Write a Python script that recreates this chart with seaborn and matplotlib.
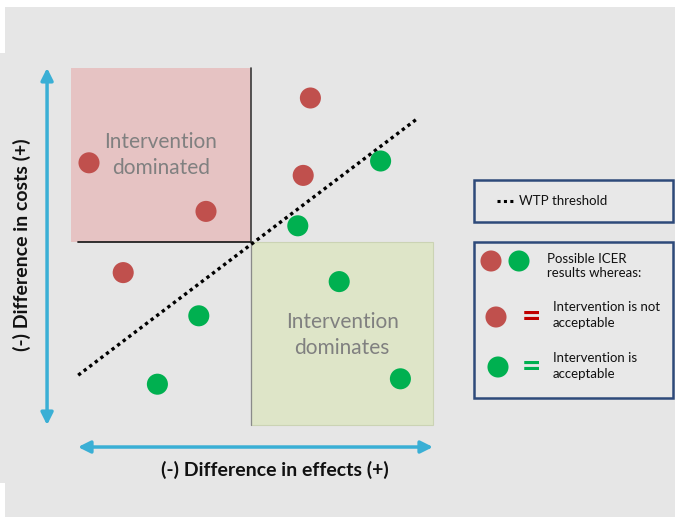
import matplotlib
matplotlib.use("Agg")
import matplotlib.pyplot as plt
import seaborn as sns
import pandas as pd
from matplotlib.patches import Rectangle

# ---------------- data ----------------
red_effects = [-9.0, -2.5, 3.3, 2.9, -7.1]
red_costs = [4.4, 1.7, 8.0, 3.7, -1.7]
green_effects = [7.2, 2.6, 4.9, -2.9, -5.2, 8.3]
green_costs = [4.5, 0.9, -2.2, -4.1, -7.9, -7.6]
wtp_effects = [-9.6, 9.3]
wtp_costs = [-7.4, 6.9]
quadrant_labels = ["Intervention\ndominated", "Intervention\ndominates"]
x_label = "(-) Difference in effects (+)"
y_label = "(-) Difference in costs (+)"
legend_wtp = "WTP threshold"
legend_texts = ["Possible ICER\nresults whereas:",
                "Intervention is not\nacceptable",
                "Intervention is\nacceptable"]

RED = "#C0504D"
GREEN = "#00B050"
DARKRED = "#C00000"
BG = "#E6E6E6"
PINK = "#E6C3C3"
LGREEN = "#DEE5C8"
ARROW = "#3AAFD5"
BOX = "#2E4A7A"

sns.set_theme(style="white")
plt.rcParams["font.family"] = ["Lato", "DejaVu Sans"]

W, H = 675, 517
fig = plt.figure(figsize=(W / 100, H / 100), dpi=100)
fig.patch.set_facecolor("white")

# background / annotation axes in pixel units
bg = fig.add_axes([0, 0, 1, 1], zorder=0)
bg.set_xlim(0, W)
bg.set_ylim(H, 0)
bg.axis("off")
bg.add_patch(Rectangle((5, 7), W - 5, H - 7, facecolor=BG, edgecolor="none"))
bg.add_patch(Rectangle((0, 53), 6, 430, facecolor=BG, edgecolor="none"))

# main data axes
S = 18.0
ox, oy = 251, 242
ax = fig.add_axes([0, 0, 1, 1], zorder=1)
ax.set_xlim(-ox / S, (W - ox) / S)
ax.set_ylim(-(H - oy) / S, oy / S)
ax.patch.set_visible(False)
ax.axis("off")

# quadrant shading
ax.add_patch(Rectangle((-10, 0), 10, 9.67, facecolor=PINK, edgecolor="none", zorder=1))
ax.add_patch(Rectangle((0, -10.17), 10.1, 10.17, facecolor=LGREEN, edgecolor="#CBD3B4", lw=0.8, zorder=1))
ax.plot([0, 0], [9.67, 0], color="#3a3a3a", lw=1.2, zorder=2)
ax.plot([0, 0], [0, -10.17], color="#8a8a8a", lw=0.9, zorder=2)
ax.plot([-9.6, 0], [0, 0], color="#222222", lw=1.3, zorder=2)

ax.text(-5, 4.83, quadrant_labels[0], ha="center", va="center", color="#808080",
        fontsize=15, linespacing=1.35, zorder=3)
ax.text(5.06, -5.17, quadrant_labels[1], ha="center", va="center", color="#808080",
        fontsize=15, linespacing=1.35, zorder=3)

# axis arrows
ax.annotate("", xy=(-11.33, 9.67), xytext=(-11.33, -10.17),
            arrowprops=dict(arrowstyle="<|-|>", color=ARROW, lw=2.5,
                            mutation_scale=18, shrinkA=0, shrinkB=0))
ax.annotate("", xy=(10.11, -11.39), xytext=(-9.61, -11.39),
            arrowprops=dict(arrowstyle="<|-|>", color=ARROW, lw=2.5,
                            mutation_scale=18, shrinkA=0, shrinkB=0))

# WTP line
sns.lineplot(x=wtp_effects, y=wtp_costs, ax=ax, color="black", lw=2.4,
             linestyle=(0, (1, 1.1)), zorder=4)

# points
df = pd.DataFrame({
    "effect": red_effects + green_effects,
    "cost": red_costs + green_costs,
    "group": ["not acceptable"] * len(red_effects) + ["acceptable"] * len(green_effects),
})
sns.scatterplot(data=df, x="effect", y="cost", hue="group",
                palette={"not acceptable": RED, "acceptable": GREEN},
                s=230, edgecolor="none", legend=False, ax=ax, zorder=5)
ax.set_xlabel("")
ax.set_ylabel("")

# axis labels (pixel positions)
bg.text(275, 470, x_label, ha="center", va="center", fontsize=14, fontweight="bold",
        color="#111111")
bg.text(22, 245, y_label, ha="center", va="center", fontsize=14, fontweight="bold",
        color="#111111", rotation=90)

# legend boxes
bg.add_patch(Rectangle((474, 180), 199, 42, facecolor="#E8E8E8", edgecolor=BOX, lw=1.8))
bg.add_patch(Rectangle((474, 242), 199, 156, facecolor="#E8E8E8", edgecolor=BOX, lw=1.8))
bg.plot([497, 513], [201, 201], color="black", lw=2.2, linestyle=(0, (1, 1.1)))
bg.text(519, 201, legend_wtp, ha="left", va="center", fontsize=9.5, color="#111111")

bg.scatter([491], [261], s=230, color=RED, edgecolor="none")
bg.scatter([519], [261], s=230, color=GREEN, edgecolor="none")
bg.text(547, 266, legend_texts[0], ha="left", va="center", fontsize=9.5,
        linespacing=1.25, color="#111111")

bg.scatter([496], [317], s=230, color=RED, edgecolor="none")
bg.text(531, 318, "=", ha="center", va="center", fontsize=24, fontweight="bold", color=DARKRED)
bg.text(553, 315, legend_texts[1], ha="left", va="center", fontsize=9.5,
        linespacing=1.45, color="#111111")

bg.scatter([498], [367], s=230, color=GREEN, edgecolor="none")
bg.text(531, 368, "=", ha="center", va="center", fontsize=24, fontweight="bold", color=GREEN)
bg.text(553, 366, legend_texts[2], ha="left", va="center", fontsize=9.5,
        linespacing=1.45, color="#111111")

fig.savefig("out.png", dpi=100, facecolor=fig.get_facecolor())
